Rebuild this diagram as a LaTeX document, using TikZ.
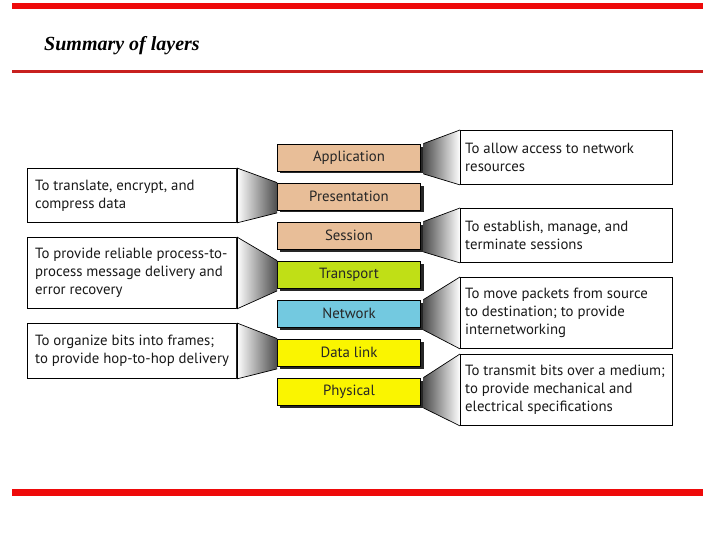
\documentclass[tikz,border=0pt]{standalone}
\usepackage{fontspec}
\setmainfont{Liberation Serif}
\newfontfamily\labelfont{PT Sans}
\definecolor{tanc}{RGB}{232,190,152}
\definecolor{limec}{RGB}{192,223,22}
\definecolor{bluec}{RGB}{115,201,224}
\definecolor{yelc}{RGB}{250,245,0}
\definecolor{redbar}{RGB}{238,10,10}
\definecolor{darkred}{RGB}{200,32,31}
\tikzset{
  layer/.style={draw=black, line width=0.8pt, minimum width=143pt, minimum height=27pt,
    inner sep=0pt, font=\labelfont\fontsize{14.8}{16}\selectfont, text=black!85},
  cbox/.style={draw=black, line width=0.9pt, fill=white, inner sep=0pt, anchor=north west},
  rbox/.style={cbox, minimum width=212pt},
  lbox/.style={cbox, minimum width=209pt},
  ctext/.style={anchor=west, inner sep=0pt, align=left,
    font=\labelfont\fontsize{14.8}{18}\selectfont, text=black!90},
  wedgeL/.style={left color=black!70, middle color=black!12, right color=white},
  wedgeR/.style={right color=black!70, middle color=black!12, left color=white},
  edge/.style={draw=black, line width=0.7pt},
}
\begin{document}
\begin{tikzpicture}[x=1pt,y=-1pt]
\useasboundingbox (0,0) rectangle (720,540);
% bars
\fill[redbar] (12,3) rectangle (703,9.5);
\fill[darkred] (12,70) rectangle (703,73.5);
\fill[redbar] (12,489) rectangle (703,495.5);
\node[anchor=base west, font=\bfseries\itshape\fontsize{20}{22}\selectfont, inner sep=0pt] (title) at (44,51) {Summary of layers};

% layer shadows
\foreach \y in {144,183,222,261,300,339,378}{
  \fill[black!85] (280,\y+3) rectangle (423.5,\y+29.5);
}
\node[layer, fill=tanc]  (app)  at (349,157.5) {Application};
\node[layer, fill=tanc]  (pre)  at (349,196.5) {Presentation};
\node[layer, fill=tanc]  (ses)  at (349,235.5) {Session};
\node[layer, fill=limec] (tra)  at (349,274.5) {Transport};
\node[layer, fill=bluec] (net)  at (349,313.5) {Network};
\node[layer, fill=yelc]  (dat)  at (349,352.5) {Data link};
\node[layer, fill=yelc]  (phy)  at (349,391.5) {Physical};

% right callouts
\node[rbox, minimum height=54pt] (capp) at (460,130) {};
\node[rbox, minimum height=54pt] (cses) at (460,208) {};
\node[rbox, minimum height=71pt] (cnet) at (460,277) {};
\node[rbox, minimum height=71pt] (cphy) at (460,354) {};
\node[ctext] (tapp) at ([xshift=5pt]capp.west) {To allow access to network\\resources};
\node[ctext] (tses) at ([xshift=5pt]cses.west) {To establish, manage, and\\terminate sessions};
\node[ctext] (tnet) at ([xshift=5pt]cnet.west) {To move packets from source\\to destination; to provide\\internetworking};
\node[ctext] (tphy) at ([xshift=5pt]cphy.west) {To transmit bits over a medium;\\to provide mechanical and\\electrical specifications};

% left callouts
\node[lbox, minimum height=54pt] (cpre) at (27,168) {};
\node[lbox, minimum height=71pt] (ctra) at (27,237) {};
\node[lbox, minimum height=55pt] (cdat) at (27,323) {};
\node[ctext] (tpre) at ([xshift=8pt]cpre.west) {To translate, encrypt, and\\compress data};
\node[ctext] (ttra) at ([xshift=8pt]ctra.west) {To provide reliable process-to-\\process message delivery and\\error recovery};
\node[ctext] (tdat) at ([xshift=8pt]cdat.west) {To organize bits into frames;\\to provide hop-to-hop delivery};

% right wedges
\foreach \l/\c in {app/capp, ses/cses, net/cnet, phy/cphy}{
  \shade[wedgeL] ([xshift=2.5pt]\l.north east) -- (\c.north west) -- (\c.south west) -- ([xshift=2.5pt,yshift=-2.5pt]\l.south east) -- cycle;
  \draw[edge] ([xshift=2.5pt]\l.north east) -- (\c.north west);
  \draw[edge] ([xshift=2.5pt,yshift=-2.5pt]\l.south east) -- (\c.south west);
  \draw[edge] (\c.north west) -- (\c.south west);
}
% left wedges
\foreach \l/\c in {pre/cpre, tra/ctra, dat/cdat}{
  \shade[wedgeR] (\c.north east) -- (\l.north west) -- ([yshift=-2.5pt]\l.south west) -- (\c.south east) -- cycle;
  \draw[edge] (\c.north east) -- (\l.north west);
  \draw[edge] ([yshift=-2.5pt]\l.south west) -- (\c.south east);
  \draw[edge] (\c.north east) -- (\c.south east);
}
\end{tikzpicture}
\end{document}
